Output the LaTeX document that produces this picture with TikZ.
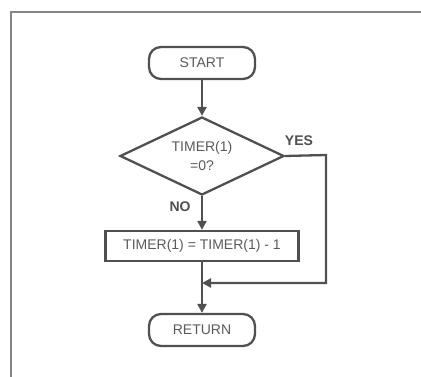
\documentclass[tikz,border=0pt]{standalone}
\usepackage{fontspec}
\setmainfont{Liberation Sans}
\usetikzlibrary{arrows.meta,shapes.geometric}
\definecolor{ink}{HTML}{505050}
\definecolor{txt}{HTML}{5a5a5a}
\begin{document}
\begin{tikzpicture}[x=1pt,y=-1pt,
  line width=2.3pt,
  every node/.style={text=txt,font=\fontsize{14}{15}\selectfont},
  term/.style={draw=ink,rounded corners=12pt,minimum width=106pt,minimum height=32pt,inner sep=0pt},
  decide/.style={draw=ink,diamond,aspect=2.1,minimum width=164pt,minimum height=78pt,inner sep=0pt,align=center,font=\fontsize{14}{19}\selectfont},
  procbox/.style={draw=ink,minimum width=193pt,minimum height=30pt,inner sep=0pt},
  flow/.style={draw=ink,-{Triangle[length=9pt,width=9pt]}},
  lbl/.style={text=ink,font=\bfseries\fontsize{14}{15}\selectfont}]
  \useasboundingbox (0,0) rectangle (421,377);
  % page frame
  \draw[ink!70,line width=1.8pt] (11,377) -- (11,12) -- (421,12);

  \node[term] (start) at (202,63) {START};
  \node[decide] (test) at (202,156) {TIMER(1)\\=0?};
  \node[procbox] (dec) at (202,246) {TIMER(1) = TIMER(1) - 1};
  \node[term] (ret) at (202,330) {RETURN};

  \coordinate (yr) at (326,155);
  \coordinate (yb) at (326,283);
  \coordinate (join) at (202,283);

  \draw[flow] (start) -- (test);
  \draw[flow] (test) -- (dec);
  \draw[flow] (dec) -- (ret);
  \draw[flow,line join=miter] (test.east) -- (yr) -- (yb) -- (join);

  \node[lbl] (yes) at (299,141) {YES};
  \node[lbl] (no) at (180,207) {NO};
\end{tikzpicture}
\end{document}
